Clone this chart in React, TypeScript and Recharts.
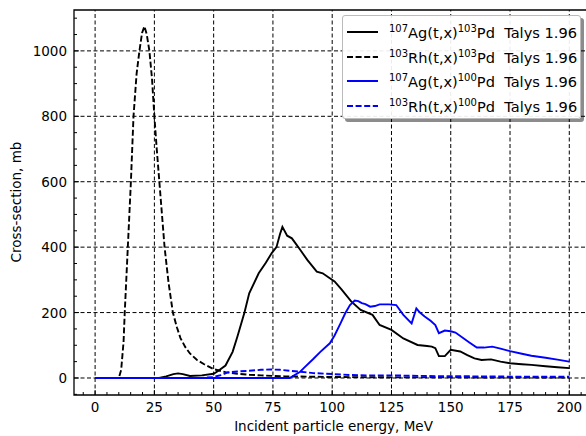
import React from "react";
import {
  LineChart,
  Line,
  XAxis,
  YAxis,
  ReferenceLine,
  ReferenceArea,
  Legend,
} from "recharts";

// 107Ag(t,x)103Pd, solid black
const agPd103E = [0, 27, 30, 33, 35, 37, 40, 45, 50, 52, 55, 58, 60, 63, 65, 69, 72, 74.5, 76.5, 78, 79, 81, 83, 86.5, 89.5, 93.5, 96, 99, 101, 104, 108, 112, 117, 120, 125, 130, 136, 140, 142, 143.5, 145, 147.5, 150, 154, 157, 160, 163, 167, 171, 175, 180, 184, 190, 195, 200];
const agPd103 = [0, 0, 5, 12, 14, 12, 6, 8, 13, 22, 38, 80, 126, 200, 259, 320, 352, 382, 400, 440, 462, 435, 427, 392, 361, 325, 320, 305, 295, 270, 234, 208, 193, 162, 147, 121, 101, 98, 96, 91, 67, 67, 86, 81, 70, 60, 55, 57, 50, 45, 42, 40, 36, 33, 30];

// 103Rh(t,x)103Pd, dashed black
const rhPd103E = [0, 10, 11, 12, 12.5, 13.8, 15.1, 16.2, 17.5, 18.7, 19.8, 20.8, 21.8, 22.9, 24, 25, 26, 27.1, 28.2, 29.3, 31, 32.8, 34.5, 36, 38, 40, 43, 46, 50, 55, 60, 65, 70, 80, 90, 100, 125, 150, 175, 200];
const rhPd103 = [0, 0, 25, 110, 200, 400, 600, 800, 930, 1000, 1055, 1075, 1050, 1000, 915, 800, 700, 600, 500, 400, 290, 200, 155, 122, 95, 75, 55, 42, 27, 18, 13, 10, 8, 5, 4, 3, 2, 2, 1, 1];

// 107Ag(t,x)100Pd, solid blue
const agPd100E = [0, 82, 86.5, 88, 92, 95, 99, 101, 103.5, 105.5, 107.5, 109.5, 111, 112.5, 114, 116, 118, 120, 124, 127, 130, 133.5, 135.5, 137, 139, 141.5, 143.5, 145, 147.5, 150, 152, 155.5, 158, 161, 164, 167.5, 171, 175, 180, 184, 190, 195, 200];
const agPd100 = [0, 0, 19, 30, 58, 80, 106, 130, 167, 198, 223, 237, 235, 229, 226, 218, 220, 225, 225, 223, 193, 167, 213, 200, 188, 175, 162, 137, 145, 143, 139, 121, 108, 93, 93, 96, 90, 82, 74, 68, 62, 56, 50];

// 103Rh(t,x)100Pd, dashed blue
const rhPd100E = [0, 45, 50, 53, 56, 60, 65, 70, 74, 78, 82, 86.5, 92, 100, 108, 115, 125, 140, 160, 180, 200];
const rhPd100 = [0, 0, 3, 9, 17, 20, 22, 25, 26, 25, 22, 19, 15, 12, 9, 8, 8, 6, 5, 4, 4];

const xMajor = [0, 25, 50, 75, 100, 125, 150, 175, 200];
const yMajor = [0, 200, 400, 600, 800, 1000];
const xTicks = Array.from({ length: 43 }, (_, i) => -5 + i * 5);
const yTicks = Array.from({ length: 24 }, (_, i) => -50 + i * 50);

const FONT = "'DejaVu Sans', sans-serif";

const toRows = (e: number[], v: number[]) => e.map((x, i) => ({ e: x, v: v[i] }));

const series = [
  { name: "ag103", data: toRows(agPd103E, agPd103), color: "#000", dash: undefined, a: "107", el: "Ag", b: "103" },
  { name: "rh103", data: toRows(rhPd103E, rhPd103), color: "#000", dash: "6 2.6", a: "103", el: "Rh", b: "103" },
  { name: "ag100", data: toRows(agPd100E, agPd100), color: "#0000ff", dash: undefined, a: "107", el: "Ag", b: "100" },
  { name: "rh100", data: toRows(rhPd100E, rhPd100), color: "#0000ff", dash: "6 2.6", a: "103", el: "Rh", b: "100" },
];

const XTick = (props: any) => {
  const { x, y, payload } = props;
  const major = payload.value % 25 === 0;
  return (
    <g>
      <line x1={x} x2={x} y1={y} y2={y - (major ? 5 : 3)} stroke="#000" strokeWidth={1} />
      {major && (
        <text x={x} y={y + 17} textAnchor="middle" fontSize={13.5} fontFamily={FONT} fill="#000">
          {payload.value}
        </text>
      )}
    </g>
  );
};

const YTick = (props: any) => {
  const { x, y, payload } = props;
  const major = payload.value % 200 === 0;
  return (
    <g>
      <line x1={x} x2={x + (major ? 5 : 3)} y1={y} y2={y} stroke="#000" strokeWidth={1} />
      {major && (
        <text x={x - 7} y={y + 5} textAnchor="end" fontSize={13.5} fontFamily={FONT} fill="#000">
          {payload.value}
        </text>
      )}
    </g>
  );
};

const LegendBox = () => (
  <div
    style={{
      position: "absolute",
      left: 342,
      top: 15,
      width: 239,
      height: 104,
      boxSizing: "border-box",
      background: "rgba(255,255,255,0.92)",
      border: "1px solid #bbb",
      borderRadius: 3,
      boxShadow: "3px 3px 0 rgba(0,0,0,0.45)",
      fontFamily: FONT,
      fontSize: 14.6,
      color: "#000",
      paddingTop: 4,
    }}
  >
    {series.map((s) => (
      <div key={s.name} style={{ height: 24.5, display: "flex", alignItems: "center", whiteSpace: "pre" }}>
        <svg width={46} height={10} style={{ flex: "none" }}>
          <line x1={4} x2={35} y1={5} y2={5} stroke={s.color} strokeWidth={2} strokeDasharray={s.dash} />
        </svg>
        <span>
          <sup style={{ fontSize: 10 }}>{s.a}</sup>
          {s.el}(t,x)
          <sup style={{ fontSize: 10 }}>{s.b}</sup>
          {"Pd  Talys 1.96"}
        </span>
      </div>
    ))}
  </div>
);

export default function App() {
  return (
    <div
      style={{
        position: "absolute",
        left: 0,
        top: 0,
        width: 586,
        height: 436,
        overflow: "hidden",
        background: "#fff",
        fontFamily: FONT,
      }}
    >
      <LineChart width={600} height={436} margin={{ top: 10, right: 7, bottom: 0, left: 10 }}>
        <XAxis
          dataKey="e"
          type="number"
          domain={[-8.9, 210]}
          allowDataOverflow
          ticks={xTicks}
          interval={0}
          tick={<XTick />}
          tickSize={0}
          tickMargin={0}
          tickLine={false}
          axisLine={false}
          height={41}
          label={{
            content: () => (
              <text x={333.5} y={431} textAnchor="middle" fontSize={13.5} fontFamily={FONT} fill="#000">
                Incident particle energy, MeV
              </text>
            ),
          }}
        />
        <YAxis
          type="number"
          domain={[-52, 1125]}
          allowDataOverflow
          ticks={yTicks}
          interval={0}
          tick={<YTick />}
          tickSize={0}
          tickMargin={0}
          tickLine={false}
          axisLine={false}
          width={64}
          label={{
            content: () => (
              <text transform="translate(21,202) rotate(-90)" textAnchor="middle" fontSize={13.5} fontFamily={FONT} fill="#000">
                Cross-section, mb
              </text>
            ),
          }}
        />
        {xMajor.map((v) => (
          <ReferenceLine key={"gx" + v} x={v} stroke="#000" strokeWidth={1} strokeDasharray="4 2.5" />
        ))}
        {yMajor.map((v) => (
          <ReferenceLine key={"gy" + v} y={v} stroke="#000" strokeWidth={1} strokeDasharray="4 2.5" />
        ))}
        {series.map((s) => (
          <Line
            key={s.name}
            data={s.data}
            dataKey="v"
            type="linear"
            stroke={s.color}
            strokeWidth={1.9}
            strokeDasharray={s.dash}
            dot={false}
            activeDot={false}
            isAnimationActive={false}
          />
        ))}
        <ReferenceArea x1={-8.9} x2={210} y1={-52} y2={1125} fill="none" stroke="#000" strokeWidth={1.3} ifOverflow="visible" />
        <Legend
          layout="horizontal"
          verticalAlign="middle"
          align="center"
          wrapperStyle={{ left: 0, top: 0, width: 0, height: 0 }}
          content={() => <LegendBox />}
        />
      </LineChart>
    </div>
  );
}
